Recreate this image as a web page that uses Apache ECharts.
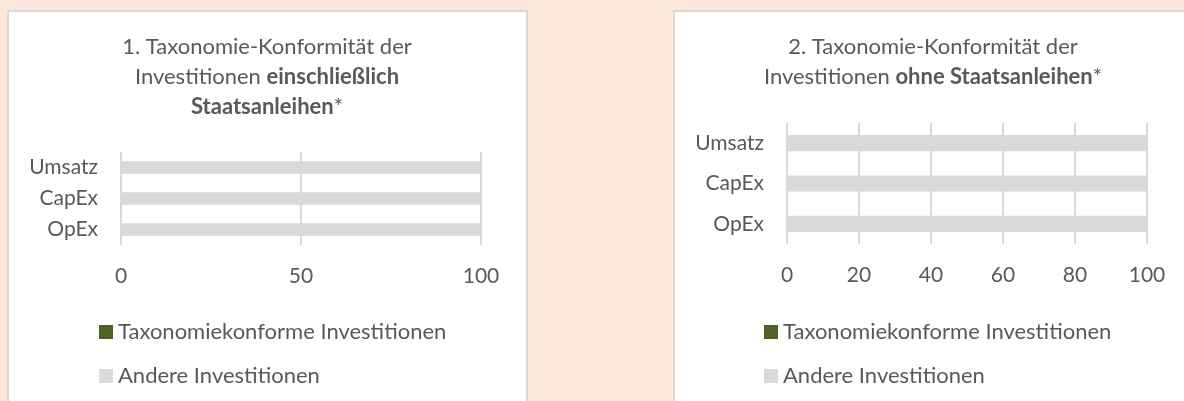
<!DOCTYPE html>
<html>
<head>
<meta charset="utf-8">
<script src="https://cdn.jsdelivr.net/npm/echarts@6/dist/echarts.min.js"></script>
<style>
  html, body { margin: 0; padding: 0; }
  body { width: 1184px; height: 401px; background: #fce8da; position: relative; overflow: hidden; }
  .panel { position: absolute; top: 10px; height: 420px; background: #fff; border: 2px solid #d9d9d9; box-sizing: border-box; }
  #main { position: absolute; left: 0; top: 0; width: 1184px; height: 401px; }
</style>
</head>
<body>
<div class="panel" style="left:7px;width:521px"></div>
<div class="panel" style="left:673px;width:530px"></div>
<div id="main"></div>
<script>
// categories from bottom to top (category axis draws the first one at the bottom)
const categories = ['OpEx', 'CapEx', 'Umsatz'];
const seriesNames = ['Taxonomiekonforme Investitionen', 'Andere Investitionen'];

// 1. including government bonds
const konform1 = [0, 0, 0];
const andere1 = [100, 100, 100];
// 2. without government bonds
const konform2 = [0, 0, 0];
const andere2 = [100, 100, 100];

const xTicks1 = { min: 0, max: 100, interval: 50 };
const xTicks2 = { min: 0, max: 100, interval: 20 };

const textColor = '#595959';
const greyColor = '#d9d9d9';
const greenColor = '#4f6228';
const font = 'Lato, "Noto Sans", sans-serif';

function makeX(idx, ticks) {
  return {
    type: 'value',
    gridIndex: idx,
    min: ticks.min,
    max: ticks.max,
    interval: ticks.interval,
    axisLine: { show: false },
    axisTick: { show: false },
    axisLabel: { color: textColor, fontSize: 21, fontFamily: font, margin: 21 },
    splitLine: { show: true, lineStyle: { color: greyColor, width: 2 } }
  };
}

function makeY(idx) {
  return {
    type: 'category',
    gridIndex: idx,
    data: categories,
    axisLine: { show: false },
    axisTick: { show: false },
    axisLabel: { color: textColor, fontSize: 21, fontFamily: font, margin: 23 }
  };
}

function makeLegend(left) {
  return {
    orient: 'vertical',
    left: left,
    top: 316,
    itemWidth: 14,
    itemHeight: 14,
    itemGap: 22,
    icon: 'rect',
    data: seriesNames,
    selectedMode: false,
    textStyle: { color: textColor, fontSize: 22, fontFamily: font, lineHeight: 22 }
  };
}

function makeSeries(idx, konform, andere) {
  return [
    {
      name: seriesNames[0],
      type: 'bar',
      stack: 's' + idx,
      xAxisIndex: idx,
      yAxisIndex: idx,
      barWidth: '40%',
      data: konform,
      itemStyle: { color: greenColor }
    },
    {
      name: seriesNames[1],
      type: 'bar',
      stack: 's' + idx,
      xAxisIndex: idx,
      yAxisIndex: idx,
      barWidth: '40%',
      data: andere,
      itemStyle: { color: greyColor }
    }
  ];
}

const titleStyle = {
  color: textColor,
  fontSize: 22,
  fontFamily: font,
  fontWeight: 'normal',
  lineHeight: 30,
  rich: {
    b: { fontWeight: 'bold', fontSize: 22, fontFamily: font, color: textColor, lineHeight: 30 }
  }
};

let myChart = echarts.init(document.getElementById('main'));
let option = {
  animation: false,
  title: [
    {
      text: '1. Taxonomie-Konformität der\nInvestitionen {b|einschließlich}\n{b|Staatsanleihen}*',
      left: 267,
      top: 32,
      textAlign: 'center',
      padding: 0,
      textStyle: titleStyle
    },
    {
      text: '2. Taxonomie-Konformität der\nInvestitionen {b|ohne Staatsanleihen}*',
      left: 933,
      top: 32,
      textAlign: 'center',
      padding: 0,
      textStyle: titleStyle
    }
  ],
  legend: [makeLegend(94), makeLegend(759)],
  grid: [
    { left: 121, right: 1184 - 481, top: 152, height: 93 },
    { left: 787, right: 1184 - 1147, top: 123, height: 121 }
  ],
  xAxis: [makeX(0, xTicks1), makeX(1, xTicks2)],
  yAxis: [makeY(0), makeY(1)],
  series: makeSeries(0, konform1, andere1).concat(makeSeries(1, konform2, andere2))
};
myChart.setOption(option);
</script>
</body>
</html>
